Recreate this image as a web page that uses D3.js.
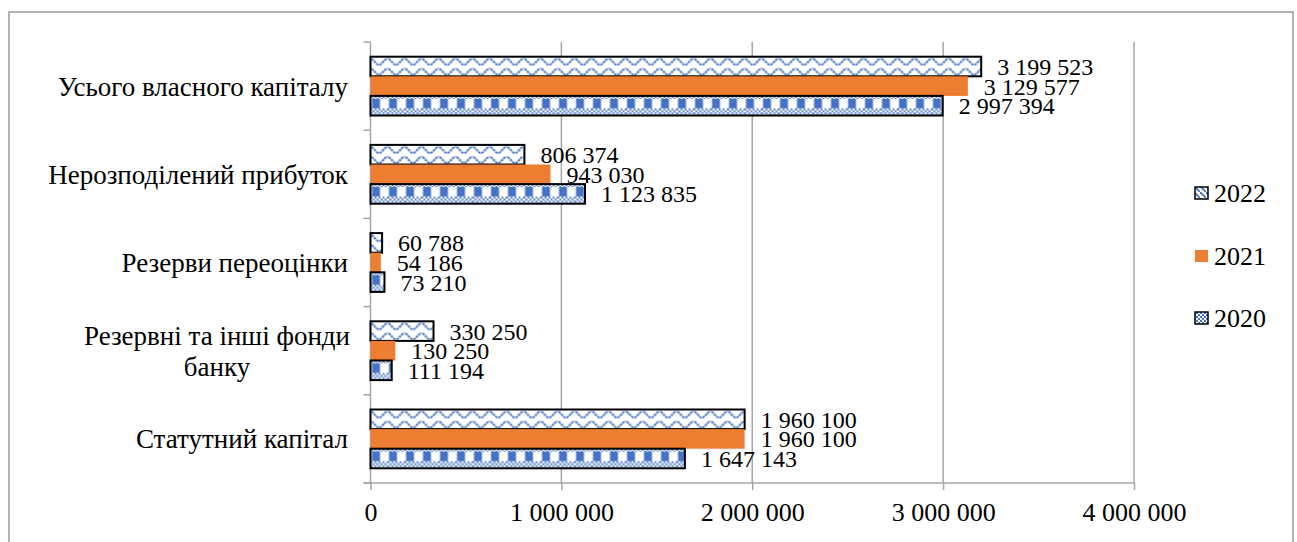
<!DOCTYPE html>
<html>
<head>
<meta charset="utf-8">
<script src="https://cdn.jsdelivr.net/npm/d3@7"></script>
<style>
  html, body { margin: 0; padding: 0; background: #fff; }
  svg { display: block; }
  text { font-family: "Liberation Serif", "Times New Roman", serif; fill: #000; }
</style>
</head>
<body>
<svg id="chart" width="1297" height="542"></svg>
<script>
// Equity structure by item, thousand UAH
const categories = [
  "Усього власного капіталу",
  "Нерозподілений прибуток",
  "Резерви переоцінки",
  "Резервні та інші фонди банку",
  "Статутний капітал"
];
const categoryLines = [
  ["Усього власного капіталу"],
  ["Нерозподілений прибуток"],
  ["Резерви переоцінки"],
  ["Резервні та інші фонди", "банку"],
  ["Статутний капітал"]
];
const years = ["2022", "2021", "2020"];
const values2022 = [3199523, 806374, 60788, 330250, 1960100];
const values2021 = [3129577, 943030, 54186, 130250, 1960100];
const values2020 = [2997394, 1123835, 73210, 111194, 1647143];
const xTicks = [0, 1000000, 2000000, 3000000, 4000000];

const seriesValues = { "2022": values2022, "2021": values2021, "2020": values2020 };

const svg = d3.select("#chart");
const fmt = v => d3.format(",")(v).replace(/,/g, " ");
const SERIF = '"Liberation Serif", "Times New Roman", serif';

const BLUE = "#4472C4";
const ORANGE = "#ED7D31";
const GRID = "#a6a6a6";

// Chart area border
svg.append("rect")
  .attr("x", 9).attr("y", 12)
  .attr("width", 1284).attr("height", 560)
  .attr("fill", "#fff")
  .attr("stroke", "#9a9a9a").attr("stroke-width", 1.5);

const x = d3.scaleLinear().domain([0, 4000000]).range([370.5, 1134]);
const y = d3.scaleBand().domain(categories).range([42, 483]).padding(0);
const bw = y.bandwidth();
// gap width 150%: three bars fill 2/3 of each band
const ySub = d3.scaleBand().domain(years).range([bw / 6, bw * 5 / 6]).padding(0);
const barH = ySub.bandwidth();

const defs = svg.append("defs");

// Wave texture for 2022
function wavePattern(id, yTop) {
  const p = defs.append("pattern")
    .attr("id", id)
    .attr("patternUnits", "userSpaceOnUse")
    .attr("x", x(0)).attr("y", yTop)
    .attr("width", 17).attr("height", 10);
  p.append("rect").attr("width", 17).attr("height", 10).attr("fill", "#fff");
  const pts = d3.range(-2, 20, 0.5).map(t => [t, 5 - 3 * Math.cos(t / 17 * 2 * Math.PI)]);
  p.append("path")
    .attr("d", d3.line()(pts))
    .attr("fill", "none")
    .attr("stroke", BLUE)
    .attr("stroke-width", 2)
    .attr("stroke-dasharray", "2.5 0.8");
}

// Block + fine checker texture for 2020
function checkPattern(id, yTop, h) {
  const p = defs.append("pattern")
    .attr("id", id)
    .attr("patternUnits", "userSpaceOnUse")
    .attr("x", x(0)).attr("y", yTop)
    .attr("width", 17).attr("height", 40);
  p.append("rect").attr("width", 17).attr("height", 40).attr("fill", "#fff");
  const fine = (y0, y1) => {
    for (let yy = y0; yy < y1; yy += 2) {
      for (let xx = ((yy - y0) / 2) % 2 === 0 ? 0 : 2; xx < 17; xx += 4) {
        p.append("rect").attr("x", xx).attr("y", yy).attr("width", 2).attr("height", Math.min(2, y1 - yy)).attr("fill", BLUE).attr("opacity", 0.85);
      }
    }
  };
  fine(0, 3);
  p.append("rect").attr("x", 1.5).attr("y", 3).attr("width", 8).attr("height", 9.5).attr("fill", BLUE);
  fine(12.5, h);
}

categories.forEach((c, i) => {
  wavePattern("wave" + i, y(c) + ySub("2022"));
  checkPattern("check" + i, y(c) + ySub("2020"), barH);
});

// Legend swatch textures
const lw = defs.append("pattern").attr("id", "lgWave").attr("patternUnits", "userSpaceOnUse")
  .attr("width", 6).attr("height", 6);
lw.append("rect").attr("width", 6).attr("height", 6).attr("fill", "#fff");
lw.append("path").attr("d", "M0,0 L6,6").attr("stroke", BLUE).attr("stroke-width", 1.8);
const lc = defs.append("pattern").attr("id", "lgCheck").attr("patternUnits", "userSpaceOnUse")
  .attr("width", 4).attr("height", 4);
lc.append("rect").attr("width", 4).attr("height", 4).attr("fill", "#fff");
lc.append("rect").attr("width", 2).attr("height", 2).attr("fill", BLUE);
lc.append("rect").attr("x", 2).attr("y", 2).attr("width", 2).attr("height", 2).attr("fill", BLUE);

// Vertical gridlines
svg.append("g")
  .selectAll("line")
  .data(xTicks.slice(1))
  .join("line")
  .attr("x1", d => x(d)).attr("x2", d => x(d))
  .attr("y1", 42).attr("y2", 483)
  .attr("stroke", GRID).attr("stroke-width", 1.5);

// Bottom value axis
const xAxis = svg.append("g")
  .attr("transform", "translate(0,483)")
  .call(d3.axisBottom(x).tickValues(xTicks).tickFormat(fmt).tickSize(7).tickPadding(13));
xAxis.attr("font-family", SERIF);
xAxis.select(".domain").attr("stroke", GRID).attr("stroke-width", 1.5).attr("d", `M${x(0) - 7},0H${x(4000000)}`);
xAxis.selectAll(".tick line").attr("stroke", GRID).attr("stroke-width", 1.5);
xAxis.selectAll(".tick text")
  .style("font-family", SERIF)
  .style("font-size", "26px").attr("fill", "#000");

// Left category axis with ticks at band boundaries
const yAxisG = svg.append("g");
yAxisG.append("line")
  .attr("x1", x(0)).attr("x2", x(0)).attr("y1", 42).attr("y2", 483)
  .attr("stroke", GRID).attr("stroke-width", 1.5);
yAxisG.selectAll("line.tk")
  .data(categories.map(c => y(c)).concat([483]))
  .join("line").attr("class", "tk")
  .attr("x1", x(0) - 7).attr("x2", x(0))
  .attr("y1", d => d).attr("y2", d => d)
  .attr("stroke", GRID).attr("stroke-width", 1.5);

// Category labels
const labG = svg.append("g").style("font-size", "27px");
categories.forEach((c, i) => {
  const lines = categoryLines[i];
  const cy = y(c) + bw / 2;
  if (lines.length === 1) {
    labG.append("text")
      .attr("x", 348).attr("y", cy)
      .attr("dy", "0.35em")
      .attr("text-anchor", "end")
      .text(lines[0]);
  } else {
    const t = labG.append("text").attr("text-anchor", "middle");
    const lh = 31;
    lines.forEach((ln, k) => {
      t.append("tspan")
        .attr("x", 217)
        .attr("y", cy + (k - (lines.length - 1) / 2) * lh)
        .attr("dy", "0.35em")
        .text(ln);
    });
  }
});

// Bars
const fills = {
  "2022": i => `url(#wave${i})`,
  "2021": () => ORANGE,
  "2020": i => `url(#check${i})`
};
years.forEach(yr => {
  const g = svg.append("g");
  g.selectAll("rect")
    .data(seriesValues[yr].map((v, i) => ({ v, i, c: categories[i] })))
    .join("rect")
    .attr("x", x(0))
    .attr("y", d => y(d.c) + ySub(yr))
    .attr("width", d => x(d.v) - x(0))
    .attr("height", barH)
    .attr("fill", d => fills[yr](d.i))
    .attr("stroke", yr === "2021" ? "none" : "#000")
    .attr("stroke-width", 2);
});

// Value labels
years.forEach(yr => {
  svg.append("g").style("font-size", "24px")
    .selectAll("text")
    .data(seriesValues[yr].map((v, i) => ({ v, c: categories[i] })))
    .join("text")
    .attr("x", d => x(d.v) + 16)
    .attr("y", d => y(d.c) + ySub(yr) + barH / 2)
    .attr("dy", "0.35em")
    .text(d => fmt(d.v));
});

// Legend
const legendItems = [
  { key: "2022", y: 193, fill: "url(#lgWave)", stroke: "#000" },
  { key: "2021", y: 256, fill: ORANGE, stroke: "none" },
  { key: "2020", y: 318, fill: "url(#lgCheck)", stroke: "#000" }
];
const lg = svg.append("g").style("font-size", "26px");
legendItems.forEach(it => {
  lg.append("rect")
    .attr("x", 1195).attr("y", it.y - 6)
    .attr("width", 13).attr("height", 12)
    .attr("fill", it.fill)
    .attr("stroke", it.stroke).attr("stroke-width", 1.5);
  lg.append("text")
    .attr("x", 1214).attr("y", it.y)
    .attr("dy", "0.35em")
    .text(it.key);
});
</script>
</body>
</html>
